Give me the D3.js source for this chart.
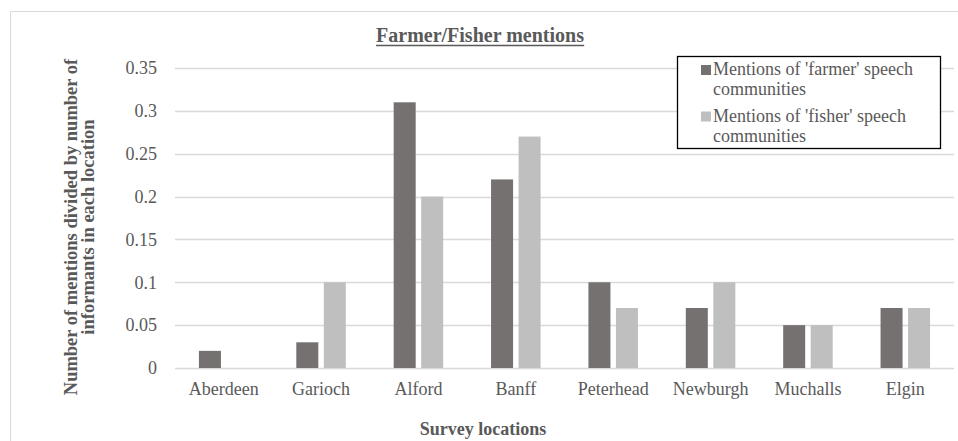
<!DOCTYPE html>
<html>
<head>
<meta charset="utf-8">
<script src="https://cdn.jsdelivr.net/npm/d3@7/dist/d3.min.js"></script>
<style>
  html, body { margin: 0; padding: 0; background: #fff; }
  svg { display: block; font-family: "Liberation Serif", "Times New Roman", serif; }
  svg text { font-family: "Liberation Serif", "Times New Roman", serif; }
</style>
</head>
<body>
<svg id="chart" width="958" height="441"></svg>
<script>
// Survey locations and the two mention ratios per location
const locations = ["Aberdeen", "Garioch", "Alford", "Banff", "Peterhead", "Newburgh", "Muchalls", "Elgin"];
const farmerMentions = [0.02, 0.03, 0.31, 0.22, 0.10, 0.07, 0.05, 0.07];
const fisherMentions = [0.00, 0.10, 0.20, 0.27, 0.07, 0.10, 0.05, 0.07];
const seriesNames = ["Mentions of 'farmer' speech communities", "Mentions of 'fisher' speech communities"];
const legendLines = [["Mentions of 'farmer' speech", "communities"], ["Mentions of 'fisher' speech", "communities"]];
const yTicks = [0, 0.05, 0.1, 0.15, 0.2, 0.25, 0.3, 0.35];
const seriesColors = ["#767171", "#bfbfbf"];

const svg = d3.select("#chart");
const plot = { left: 175, right: 954, top: 68, bottom: 368 };

// Outer chart frame (only top and left edges fall inside the view)
svg.append("path")
  .attr("d", "M10.5,441 V11.5 H958")
  .attr("fill", "none")
  .attr("stroke", "#d9d9d9")
  .attr("stroke-width", 1);

const x0 = d3.scaleBand().domain(locations).range([plot.left, plot.right]);
const x1 = d3.scaleBand().domain(d3.range(2)).range([0, x0.bandwidth()])
  .paddingInner(0.2).paddingOuter(0.87);
const y = d3.scaleLinear().domain([0, 0.35]).range([plot.bottom, plot.top]);

// Horizontal gridlines
svg.append("g")
  .selectAll("line")
  .data(yTicks)
  .join("line")
  .attr("x1", plot.left).attr("x2", plot.right)
  .attr("y1", d => Math.round(y(d)) + 0.5).attr("y2", d => Math.round(y(d)) + 0.5)
  .attr("stroke", "#d9d9d9")
  .attr("stroke-width", 1.3);

// Y axis tick labels
const yAxis = svg.append("g")
  .attr("transform", `translate(${plot.left - 18},0)`)
  .call(d3.axisLeft(y).tickValues(yTicks).tickSize(0).tickPadding(0).tickFormat(d => String(+d.toFixed(2))))
  .attr("font-family", null)
  .attr("font-size", "18px");
yAxis.select(".domain").remove();
yAxis.selectAll("text").attr("fill", "#595959");

// X axis category labels
const xAxis = svg.append("g")
  .attr("transform", `translate(0,${plot.bottom})`)
  .call(d3.axisBottom(x0).tickSize(0).tickPadding(14))
  .attr("font-family", null)
  .attr("font-size", "18px");
xAxis.select(".domain").remove();
xAxis.selectAll("text").attr("fill", "#595959");

// Grouped bars
const rows = locations.map((loc, i) => ({ loc, values: [farmerMentions[i], fisherMentions[i]] }));
svg.append("g")
  .selectAll("g")
  .data(rows)
  .join("g")
  .attr("transform", d => `translate(${x0(d.loc)},0)`)
  .selectAll("rect")
  .data(d => d.values.map((v, s) => ({ v, s })))
  .join("rect")
  .attr("x", d => x1(d.s))
  .attr("width", x1.bandwidth())
  .attr("y", d => y(d.v))
  .attr("height", d => y(0) - y(d.v))
  .attr("fill", d => seriesColors[d.s]);

// Title
const title = svg.append("text")
  .attr("x", 480).attr("y", 42)
  .attr("text-anchor", "middle")
  .attr("fill", "#595959")
  .style("font-size", "20px")
  .style("font-weight", "bold")
  .text("Farmer/Fisher mentions");
const tb = title.node().getBBox();
svg.append("line")
  .attr("x1", tb.x).attr("x2", tb.x + tb.width)
  .attr("y1", 45.5).attr("y2", 45.5)
  .attr("stroke", "#595959").attr("stroke-width", 1.3);

// Axis titles
svg.append("text")
  .attr("x", 483).attr("y", 435)
  .attr("text-anchor", "middle")
  .attr("fill", "#595959")
  .style("font-size", "18px")
  .style("font-weight", "bold")
  .text("Survey locations");

const yTitle = svg.append("text")
  .attr("transform", "translate(0,227) rotate(-90)")
  .attr("text-anchor", "middle")
  .attr("fill", "#595959")
  .style("font-size", "18.5px")
  .style("font-weight", "bold");
yTitle.append("tspan").attr("x", 0).attr("y", 77).text("Number of mentions divided by number of");
yTitle.append("tspan").attr("x", 0).attr("y", 94).text("informants in each location");

// Legend
const legend = svg.append("g");
legend.append("rect")
  .attr("x", 677.5).attr("y", 56.5)
  .attr("width", 263).attr("height", 92)
  .attr("fill", "#fff")
  .attr("stroke", "#000")
  .attr("stroke-width", 1.3);
const items = legend.selectAll("g.item")
  .data(seriesNames)
  .join("g")
  .attr("class", "item")
  .attr("transform", (d, i) => `translate(0,${i * 46.5})`);
items.append("rect")
  .attr("x", 701).attr("y", 65)
  .attr("width", 10).attr("height", 10)
  .attr("fill", (d, i) => seriesColors[i]);
const lt = items.append("text")
  .attr("fill", "#595959")
  .style("font-size", "18px");
lt.append("tspan").attr("x", 713).attr("y", 75).text((d, i) => legendLines[i][0]);
lt.append("tspan").attr("x", 713).attr("y", 95).text((d, i) => legendLines[i][1]);
</script>
</body>
</html>
